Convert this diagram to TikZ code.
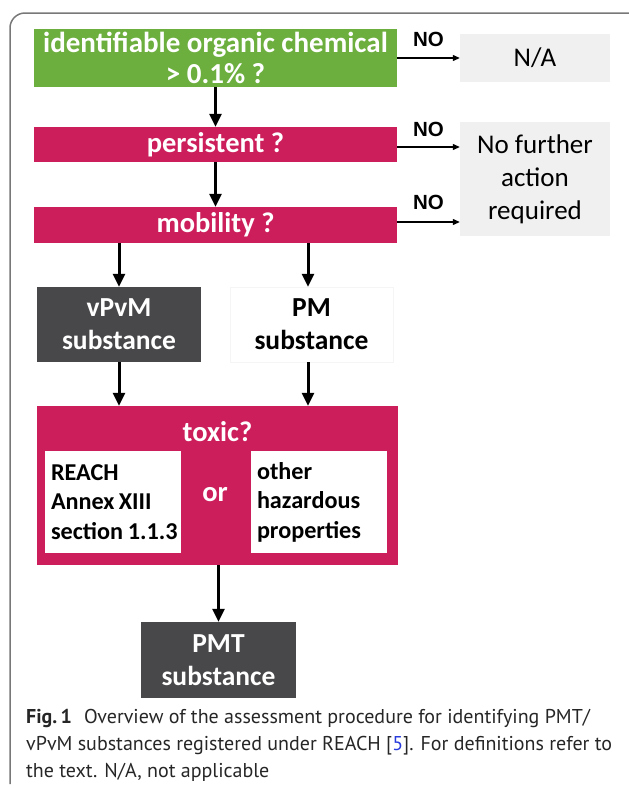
\documentclass[tikz,border=0pt]{standalone}
\usepackage{fontspec}
\setmainfont{Carlito}
\newfontfamily\capfont{PT Sans}
\newfontfamily\nofont{Liberation Sans}
\usetikzlibrary{arrows.meta, positioning}
\definecolor{chemgreen}{RGB}{108, 175, 62}
\definecolor{pmtred}{RGB}{205, 30, 92}
\definecolor{substgray}{RGB}{72, 72, 74}
\definecolor{naback}{RGB}{240, 240, 240}
\definecolor{framegray}{RGB}{120, 120, 120}
\definecolor{capblue}{RGB}{40, 60, 220}
\tikzstyle{question} = [rectangle, fill=pmtred, text=white, font=\bfseries\fontsize{28.5}{33}\selectfont, minimum width=363pt, inner sep=0pt, align=center]
\tikzstyle{outcome} = [rectangle, fill=naback, font=\fontsize{27}{33}\selectfont, minimum width=150pt, inner sep=0pt, align=center]
\tikzstyle{substance} = [rectangle, text=white, fill=substgray, font=\bfseries\fontsize{27.5}{33}\selectfont, inner sep=0pt, align=center]
\tikzstyle{criterion} = [rectangle, fill=white, font=\bfseries\fontsize{24.2}{29.5}\selectfont, text width=124pt, inner xsep=6pt, inner ysep=0pt, minimum height=102pt, align=left]
\tikzstyle{arrow} = [-{Triangle[length=13pt, width=12pt]}, line width=3pt]
\tikzstyle{noarrow} = [-{Triangle[length=7pt, width=6pt]}, line width=1.2pt]
\tikzstyle{nolabel} = [font=\nofont\bfseries\fontsize{20.5}{20.5}\selectfont, inner sep=1pt]

\begin{document}
\begin{tikzpicture}[x=1pt, y=-1pt]
    \useasboundingbox (0,0) rectangle (629,788);
    % Frame
    \draw[framegray, line width=1.5pt, rounded corners=15pt] (10,784) -- (10,13) -- (629,13);

    % Screening questions
    \node[question, fill=chemgreen, minimum height=58pt, font=\bfseries\fontsize{29}{33}\selectfont] (chem) at (215.5, 58) {identifiable organic chemical\\[-2pt]> 0.1\% ?};
    \node[question, minimum height=35pt] (pers) at (215.5, 144.5) {persistent ?};
    \node[question, minimum height=36pt] (mob) at (215.5, 225) {mobility ?};

    % Outcomes
    \node[outcome, minimum height=48pt] (na) at (535, 58) {N/A};
    \node[outcome, minimum height=114pt] (nfa) at (535, 179) {No further\\action\\required};

    % Substances
    \node[substance, minimum width=164pt, minimum height=75pt] (vpvm) at (119, 324.5) {vPvM\\substance};
    \node[substance, fill=white, text=black, draw=black!4, minimum width=163pt, minimum height=75pt] (pm) at (311.5, 324.5) {PM\\substance};

    % Toxicity
    \node[question, minimum width=361pt, minimum height=159pt] (toxic) at (217.5, 485.5) {};
    \node[font=\bfseries\fontsize{28.5}{33}\selectfont, text=white] (toxiclbl) at (217.5, 432) {toxic?};
    \node[criterion] (reach) at (113, 502) {REACH\\\mbox{Annex\hspace{0.18em}XIII}\\\mbox{section\hspace{0.2em}1.1.3}};
    \node[criterion] (other) at (319, 502) {other\\hazardous\\properties};
    \node[font=\bfseries\fontsize{28.5}{33}\selectfont, text=white] (or) at (215, 495) {or};

    % Result
    \node[substance, minimum width=155pt, minimum height=76pt] (pmt) at (218.5, 660) {PMT\\substance};

    % Arrows
    \draw[arrow] (chem) -- (pers);
    \draw[arrow] (pers) -- (mob);
    \draw[arrow] (mob.south -| vpvm) -- (vpvm);
    \draw[arrow] ([xshift=-3.5pt]mob.south -| pm) -- ([xshift=-3.5pt]pm.north);
    \draw[arrow] (vpvm) -- (vpvm |- toxic.north);
    \draw[arrow] ([xshift=-3.5pt]pm.south) -- ([xshift=-3.5pt]pm.south |- toxic.north);
    \draw[arrow] (toxic.south -| pmt) -- (pmt);
    \draw[noarrow] (chem) -- (na) node[nolabel, midway, above=10pt] {NO};
    \draw[noarrow] ([yshift=-2.5pt]pers.east) -- ([yshift=-2.5pt]pers.east -| nfa.west) node[nolabel, midway, above=9pt] {NO};
    \draw[noarrow] ([yshift=3pt]mob.east) -- ([yshift=3pt]mob.east -| nfa.west) node[nolabel, midway, above=11pt] {NO};

    % Caption
    \node[anchor=west, align=left, inner sep=0pt, text=black!85, font=\capfont\fontsize{20}{27}\selectfont] (caption) at (26, 745) {\textbf{Fig.\,1}\hspace{0.6em}Overview of the assessment procedure for identifying PMT/\\vPvM substances registered under REACH [{\color{capblue}5}]. For definitions refer to\\the text. N/A, not applicable};
\end{tikzpicture}
\end{document}
